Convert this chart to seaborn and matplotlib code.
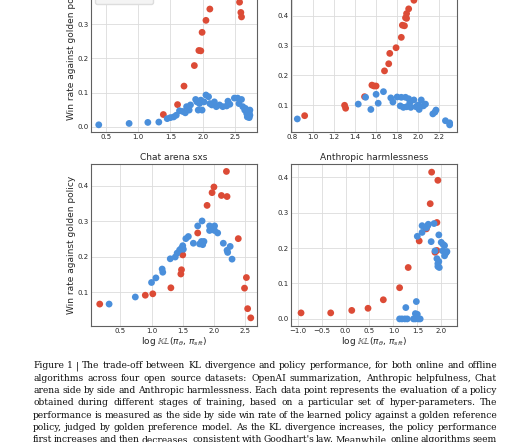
import pandas as pd
import matplotlib
matplotlib.use('Agg')
import matplotlib.pyplot as plt
import seaborn as sns

# ---- data (red = online, blue = offline) ----
# OpenAI summarization (top left)
tl_online_x = [1.39, 1.61, 1.71, 1.87, 1.94, 1.97, 1.99, 2.05, 2.11, 2.57, 2.59, 2.60]
tl_online_y = [0.036, 0.065, 0.119, 0.179, 0.223, 0.222, 0.276, 0.311, 0.344, 0.364, 0.334, 0.321]
tl_offline_x = [0.39, 0.86, 1.15, 1.32, 1.45, 1.50, 1.55, 1.59, 1.64, 1.69, 1.73, 1.75, 1.79, 1.81,
                1.89, 1.91, 1.93, 1.95, 1.97, 1.99, 2.02, 2.05, 2.09, 2.11, 2.14, 2.18, 2.21, 2.26,
                2.31, 2.37, 2.39, 2.42, 2.49, 2.54, 2.56, 2.60, 2.62, 2.65, 2.68, 2.70, 2.72, 2.72,
                2.73, 2.69, 2.66, 2.73]
tl_offline_y = [0.006, 0.010, 0.013, 0.014, 0.024, 0.027, 0.029, 0.034, 0.047, 0.045, 0.041, 0.059,
                0.049, 0.064, 0.080, 0.073, 0.049, 0.068, 0.078, 0.049, 0.073, 0.093, 0.088, 0.068,
                0.064, 0.073, 0.059, 0.064, 0.059, 0.061, 0.075, 0.066, 0.084, 0.084, 0.068, 0.080,
                0.059, 0.049, 0.039, 0.034, 0.027, 0.041, 0.049, 0.029, 0.054, 0.034]

# Anthropic helpfulness (top right)
tr_online_x = [0.92, 1.30, 1.31, 1.49, 1.56, 1.58, 1.60, 1.68, 1.72, 1.73, 1.79, 1.84, 1.85, 1.87,
               1.88, 1.89, 1.89, 1.91, 1.96]
tr_online_y = [0.064, 0.099, 0.089, 0.128, 0.167, 0.164, 0.164, 0.215, 0.239, 0.274, 0.293, 0.328,
               0.369, 0.367, 0.394, 0.392, 0.408, 0.424, 0.453]
tr_offline_x = [0.85, 1.43, 1.50, 1.55, 1.60, 1.62, 1.67, 1.74, 1.76, 1.80, 1.83, 1.84, 1.86, 1.88,
                1.89, 1.91, 1.92, 1.93, 1.96, 1.98, 2.00, 2.01, 2.03, 2.05, 2.07, 2.14, 2.16, 2.17,
                2.26, 2.30, 2.30]
tr_offline_y = [0.053, 0.103, 0.126, 0.085, 0.136, 0.106, 0.145, 0.124, 0.110, 0.127, 0.097, 0.126,
                0.092, 0.126, 0.094, 0.121, 0.106, 0.092, 0.117, 0.094, 0.100, 0.085, 0.117, 0.097,
                0.103, 0.070, 0.076, 0.083, 0.047, 0.040, 0.033]

# Chat arena sxs (bottom left)
bl_online_x = [0.17, 0.90, 1.02, 1.31, 1.47, 1.48, 1.50, 1.74, 1.89, 1.97, 2.00, 2.12, 2.20, 2.21,
               2.39, 2.52, 2.49, 2.54, 2.59]
bl_online_y = [0.066, 0.091, 0.095, 0.112, 0.151, 0.163, 0.205, 0.267, 0.345, 0.381, 0.397, 0.373,
               0.441, 0.370, 0.251, 0.141, 0.111, 0.053, 0.027]
bl_offline_x = [0.32, 0.74, 1.00, 1.07, 1.17, 1.18, 1.30, 1.38, 1.41, 1.45, 1.48, 1.50, 1.51, 1.55,
                1.59, 1.67, 1.74, 1.81, 1.77, 1.80, 1.82, 1.84, 1.93, 1.93, 1.98, 2.01, 2.01, 2.06,
                2.15, 2.21, 2.22, 2.26, 2.29]
bl_offline_y = [0.066, 0.086, 0.127, 0.140, 0.165, 0.156, 0.194, 0.199, 0.210, 0.219, 0.224, 0.231,
                0.221, 0.251, 0.257, 0.238, 0.287, 0.301, 0.236, 0.243, 0.234, 0.243, 0.287, 0.274,
                0.278, 0.287, 0.274, 0.267, 0.238, 0.218, 0.212, 0.229, 0.193]

# Anthropic harmlessness (bottom right)
br_online_x = [-0.93, -0.31, 0.13, 0.47, 0.79, 1.13, 1.31, 1.54, 1.69, 1.77, 1.80, 1.91, 1.93, 1.87, 1.91]
br_online_y = [0.017, 0.017, 0.024, 0.030, 0.054, 0.088, 0.145, 0.220, 0.254, 0.325, 0.414, 0.272,
               0.391, 0.188, 0.193]
br_offline_x = [1.13, 1.18, 1.24, 1.29, 1.26, 1.42, 1.46, 1.52, 1.56, 1.48, 1.46, 1.50, 1.50, 1.60,
                1.60, 1.69, 1.72, 1.73, 1.79, 1.85, 1.87, 1.91, 1.93, 1.93, 1.96, 1.95, 1.95, 2.00,
                2.04, 2.07, 2.03, 2.07, 2.10, 2.12]
br_offline_y = [0.0, 0.0, 0.0, 0.0, 0.032, 0.0, 0.0, 0.0, 0.0, 0.049, 0.015, 0.013, 0.233, 0.244,
                0.263, 0.257, 0.263, 0.267, 0.218, 0.269, 0.192, 0.170, 0.156, 0.148, 0.145, 0.162,
                0.237, 0.216, 0.210, 0.207, 0.192, 0.178, 0.186, 0.190]

titles = ['OpenAI summarization', 'Anthropic helpfulness', 'Chat arena sxs', 'Anthropic harmlessness']

caption_lines = [
    "Figure 1 | The trade-off between KL divergence and policy performance, for both online and offline",
    "algorithms across four open source datasets: OpenAI summarization, Anthropic helpfulness, Chat",
    "arena side by side and Anthropic harmlessness. Each data point represents the evaluation of a policy",
    "obtained during different stages of training, based on a particular set of hyper-parameters.  The",
    "performance is measured as the side by side win rate of the learned policy against a golden reference",
    "policy, judged by golden preference model. As the KL divergence increases, the policy performance",
    "first increases and then decreases, consistent with Goodhart's law. Meanwhile, online algorithms seem",
]

RED = '#dc4b36'
BLUE = '#4a8fdb'

sns.set_style('whitegrid', {'axes.edgecolor': '#606060', 'grid.color': '#dcdcdc'})
plt.rcParams['font.family'] = ['DejaVu Sans']
plt.rcParams['mathtext.fontset'] = 'dejavusans'

W, H = 531, 442
fig = plt.figure(figsize=(W / 100, H / 100), dpi=100)


def px_axes(left, right, top, bottom):
    return fig.add_axes([left / W, (H - bottom) / H, (right - left) / W, (bottom - top) / H])


panels = [
    (px_axes(91, 257, -30, 132), tl_online_x, tl_online_y, tl_offline_x, tl_offline_y,
     (0.27, 2.84), (-0.015, 0.458), [0.5, 1.0, 1.5, 2.0, 2.5], [0.0, 0.1, 0.2, 0.3, 0.4]),
    (px_axes(291, 457, -30, 132), tr_online_x, tr_online_y, tr_offline_x, tr_offline_y,
     (0.79, 2.37), (0.009, 0.555), [0.8, 1.0, 1.2, 1.4, 1.6, 1.8, 2.0, 2.2], [0.1, 0.2, 0.3, 0.4, 0.5]),
    (px_axes(91, 257, 164, 326), bl_online_x, bl_online_y, bl_offline_x, bl_offline_y,
     (0.03, 2.69), (0.004, 0.462), [0.5, 1.0, 1.5, 2.0, 2.5], [0.1, 0.2, 0.3, 0.4]),
    (px_axes(291, 457, 164, 326), br_online_x, br_online_y, br_offline_x, br_offline_y,
     (-1.14, 2.33), (-0.02, 0.437), [-1.0, -0.5, 0.0, 0.5, 1.0, 1.5, 2.0], [0.0, 0.1, 0.2, 0.3, 0.4]),
]

for i, (ax, ox, oy, fx, fy, xl, yl, xt, yt) in enumerate(panels):
    df = pd.concat([
        pd.DataFrame({'kl': ox, 'win': oy, 'kind': 'online'}),
        pd.DataFrame({'kl': fx, 'win': fy, 'kind': 'offline'}),
    ], ignore_index=True)
    sns.scatterplot(data=df, x='kl', y='win', hue='kind', palette={'online': RED, 'offline': BLUE},
                    s=24, linewidth=0, alpha=1, ax=ax, legend=(i == 0))
    ax.set_xlim(*xl)
    ax.set_ylim(*yl)
    ax.set_xticks(xt)
    ax.set_yticks(yt)
    ax.tick_params(labelsize=5, pad=1.5, length=0)
    ax.grid(True, linewidth=0.6)
    for sp in ax.spines.values():
        sp.set_linewidth(0.8)
    ax.set_title(titles[i], fontsize=6.5, pad=3)
    ax.set_xlabel(r'$\log\,\mathbb{KL}(\pi_\theta,\, \pi_{sft})$' if i >= 2 else '', fontsize=6.5, labelpad=1)
    ax.set_ylabel('Win rate against golden policy' if i % 2 == 0 else '', fontsize=6.5)
    ax.yaxis.set_label_coords(-0.09, 0.5)
    if i == 0:
        # legend sits mostly above the cropped top edge, only its frame bottom shows
        ax.legend(loc='lower left', bbox_to_anchor=(0.024, 0.79), borderaxespad=0, fontsize=5.5,
                  borderpad=1.6, handlelength=0.8, handletextpad=0.4, frameon=True,
                  edgecolor='#dddddd', facecolor='#f4f4f4', framealpha=1)

# caption, justified word by word
renderer = fig.canvas.get_renderer()
x0, x1 = 33, 497
y0, dy = 366, 12.3
for k, line in enumerate(caption_lines):
    words = [w for w in line.split(' ') if w]
    texts = [fig.text(0, 0, w, fontsize=6.6, family='DejaVu Serif', va='center', ha='left', color='#111111')
             for w in words]
    widths = [t.get_window_extent(renderer).width for t in texts]
    gap = (x1 - x0 - sum(widths)) / (len(words) - 1)
    x = x0
    for t, w in zip(texts, widths):
        t.set_position((x / W, (H - (y0 + k * dy)) / H))
        x += w + gap

fig.savefig('out.png', dpi=100)
